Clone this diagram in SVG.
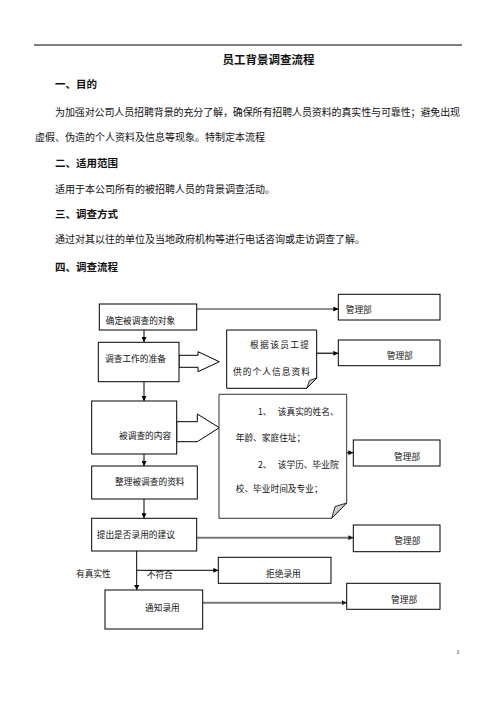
<svg xmlns="http://www.w3.org/2000/svg" width="496" height="702" viewBox="0 0 496 702">
<defs>
<marker id="ah" viewBox="0 0 10 10" refX="10" refY="5" markerWidth="5" markerHeight="5" markerUnits="userSpaceOnUse" orient="auto">
<path d="M0,0 L10,5 L0,10 Z" fill="#000"/>
</marker>
<marker id="ahg" viewBox="0 0 10 10" refX="10" refY="5" markerWidth="5" markerHeight="5" markerUnits="userSpaceOnUse" orient="auto">
<path d="M0,0 L10,5 L0,10 Z" fill="#222"/>
</marker>
</defs>
<style>
text{font-family:"Noto Sans CJK SC","Noto Sans",sans-serif;fill:#111}
.h{font-size:10.5px;font-weight:bold}
.b{font-size:10px}
.n{font-size:8.7px}
.box{fill:#fff;stroke:#000;stroke-width:1}
.ln{fill:none;stroke:#000;stroke-width:1}
.gl{fill:none;stroke:#777;stroke-width:2}
.blk{fill:#fff;stroke:#000;stroke-width:1}
</style>
<rect width="496" height="702" fill="#fff"/>
<line x1="34" y1="45" x2="462" y2="45" stroke="#000" stroke-width="1"/>
<text x="268.5" y="63.5" text-anchor="middle" style="font-size:11.5px;font-weight:bold">员工背景调查流程</text>
<text class="h" x="55" y="88.3">一、目的</text>
<text class="b" x="55" y="115.5" textLength="405" lengthAdjust="spacing">为加强对公司人员招聘背景的充分了解，确保所有招聘人员资料的真实性与可靠性；避免出现</text>
<text class="b" x="35" y="141.2">虚假、伪造的个人资料及信息等现象。特制定本流程</text>
<text class="h" x="55" y="166.7">二、适用范围</text>
<text class="b" x="55" y="192.8">适用于本公司所有的被招聘人员的背景调查活动。</text>
<text class="h" x="55" y="218">三、调查方式</text>
<text class="b" x="55" y="243.1">通过对其以往的单位及当地政府机构等进行电话咨询或走访调查了解。</text>
<text class="h" x="55" y="270.7">四、调查流程</text>

<g id="connectors">
<path class="ln" d="M144,330 V342" marker-end="url(#ah)"/>
<path class="ln" d="M144,382 V401" marker-end="url(#ah)"/>
<path class="ln" d="M144,454 V466" marker-end="url(#ah)"/>
<path class="ln" d="M144,499 V518.3" marker-end="url(#ah)"/>
<path class="ln" d="M136.7,551 V590" marker-end="url(#ah)"/>
<path class="ln" d="M136.7,570.3 H218.3" marker-end="url(#ah)"/>
<path class="ln" d="M197,309 H338.3" style="stroke:#222" marker-end="url(#ah)"/>
<path class="ln" d="M316.7,353.3 H338.3" style="stroke:#333;stroke-width:1.5" marker-end="url(#ah)"/>
<path class="ln" d="M346.7,452.7 H353.3" marker-end="url(#ah)"/>
<path class="gl" d="M196.7,537.7 H353.3" marker-end="url(#ahg)"/>
<path class="gl" d="M202.7,602.7 H346.7" marker-end="url(#ahg)"/>
<polygon class="blk" points="179,355.3 198,355.3 198,351.7 219.3,361.7 198,371.7 198,367.3 179,367.3"/>
<polygon class="blk" points="176.7,421.7 197.3,421.7 197.3,414 219.3,427.7 197.3,441.7 176.7,441.7"/>
</g>

<g id="n1"><rect class="box" x="99.3" y="304" width="97.4" height="26"/><text class="n" x="105.7" y="324">确定被调查的对象</text></g>
<g id="n2"><rect class="box" x="98.3" y="342.3" width="80.7" height="39.4"/><text class="n" x="105" y="362.3">调查工作的准备</text></g>
<g id="n3"><rect class="box" x="91.7" y="401" width="85" height="53"/><text class="n" x="119" y="439.3">被调查的内容</text></g>
<g id="n4"><rect class="box" x="91.7" y="466" width="105.6" height="33"/><text class="n" x="115" y="485.3">整理被调查的资料</text></g>
<g id="n5"><rect class="box" x="91.7" y="518.3" width="105" height="32.7"/><text class="n" x="96.7" y="538.3">提出是否录用的建议</text></g>
<g id="n6"><rect class="box" x="105" y="590" width="97.7" height="39"/><text class="n" x="145" y="610.6">通知录用</text></g>
<g id="n7"><rect class="box" x="218.3" y="557.3" width="112.7" height="26"/><text class="n" x="266" y="576.6">拒绝录用</text></g>

<g id="d1">
<path class="box" d="M226.7,330 H316.7 V378 L306.7,388.3 H226.7 Z"/>
<path d="M316.7,378 L309.5,380.5 L306.7,388.3 Z" fill="#ccc" stroke="#000" stroke-width="0.8"/>
<text class="n" x="250" y="348.3" textLength="59" lengthAdjust="spacing">根据该员工提</text>
<text class="n" x="233" y="375" textLength="77" lengthAdjust="spacing">供的个人信息资料</text>
</g>
<g id="d2">
<path class="box" d="M219,394.3 H346.7 V503 L331.7,518.3 H219 Z" style="stroke:#333"/>
<path d="M346.7,503 L335,506.5 L331.7,518.3 Z" fill="#ccc" stroke="#000" stroke-width="0.8"/>
<text class="n" x="258" y="415" xml:space="preserve">1、　 该真实的姓名、</text>
<text class="n" x="235.7" y="441">年龄、家庭住址；</text>
<text class="n" x="258" y="468.3" xml:space="preserve">2、　 该学历、毕业院</text>
<text class="n" x="235.7" y="492.3">校、毕业时间及专业；</text>
</g>

<g id="m1"><rect class="box" x="338.3" y="294.3" width="101.7" height="25.7"/><text class="n" x="345.7" y="313.3">管理部</text></g>
<g id="m2"><rect class="box" x="338.3" y="340" width="101.7" height="25.7"/><text class="n" x="386.7" y="359">管理部</text></g>
<g id="m3"><rect class="box" x="353.3" y="440" width="86.7" height="26"/><text class="n" x="394" y="460.3">管理部</text></g>
<g id="m4"><rect class="box" x="353.3" y="525" width="86.7" height="26.7"/><text class="n" x="394.3" y="544">管理部</text></g>
<g id="m5"><rect class="box" x="346.7" y="583.3" width="93.3" height="26"/><text class="n" x="391" y="602.6">管理部</text></g>

<text class="n" x="76" y="576.6">有真实性</text>
<text class="n" x="146.7" y="578.3">不符合</text>
<text x="456.5" y="654" style="font-family:'Liberation Serif',serif;font-size:6px">1</text>
</svg>
